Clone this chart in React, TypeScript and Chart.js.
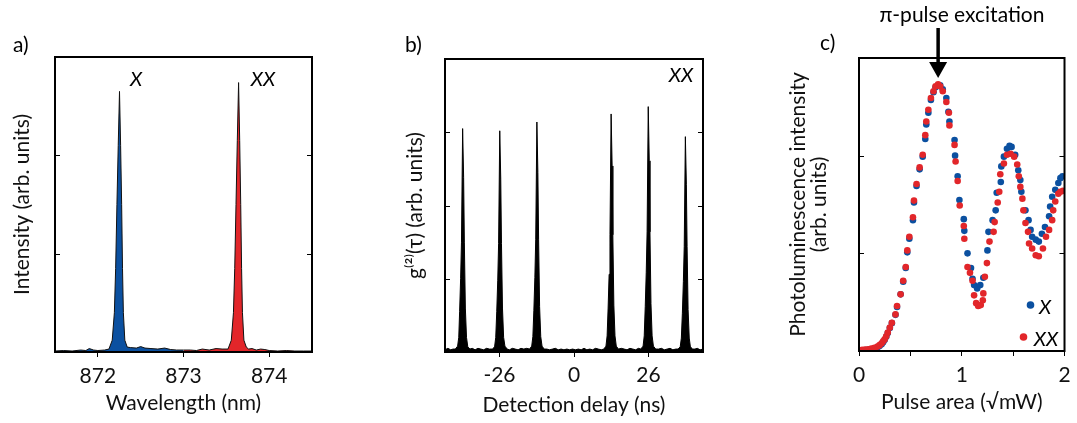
import React, { useEffect, useRef } from 'react';
import { Chart, registerables } from 'chart.js';

Chart.register(...registerables);

const FONT = 'Lato, "Open Sans", sans-serif';
const FS = 21;
const H = 423;
const BLUE = '#0b50a0';
const RED = '#e2262a';

// ---------- panel a: spectrum ----------
const wavelengthTicks = [872, 873, 874];
const intensityTicks = [1, 2];
const specXWavelength = [871.5, 871.6, 871.7, 871.8, 871.86, 871.9, 871.95, 872.0, 872.08, 872.13, 872.168, 872.193, 872.208, 872.223, 872.238, 872.253, 872.266, 872.278, 872.288, 872.298, 872.315, 872.343, 872.38, 872.45, 872.5, 872.55, 872.62, 872.7, 872.78, 872.85, 872.92, 873.0];
const specXIntensity = [0.01, 0.015, 0.01, 0.02, 0.015, 0.035, 0.02, 0.015, 0.02, 0.03, 0.12, 0.4, 0.85, 1.5, 2.1, 2.65, 2.1, 1.5, 0.85, 0.4, 0.12, 0.05, 0.045, 0.04, 0.055, 0.04, 0.035, 0.03, 0.04, 0.025, 0.02, 0.02];
const specXXWavelength = [873.0, 873.08, 873.15, 873.22, 873.3, 873.38, 873.45, 873.52, 873.558, 873.583, 873.598, 873.613, 873.628, 873.643, 873.656, 873.668, 873.678, 873.688, 873.705, 873.733, 873.76, 873.8, 873.85, 873.9, 873.95, 874.0, 874.1, 874.2, 874.3, 874.4, 874.5];
const specXXIntensity = [0.02, 0.02, 0.015, 0.03, 0.02, 0.035, 0.03, 0.03, 0.12, 0.4, 0.85, 1.5, 2.15, 2.74, 2.15, 1.5, 0.85, 0.4, 0.12, 0.05, 0.03, 0.035, 0.02, 0.03, 0.025, 0.015, 0.01, 0.015, 0.01, 0.01, 0.01];

// ---------- panel b: g2 correlation ----------
const delayTicks = [-26, 0, 26];
const g2Ticks = [1, 2, 3];
const g2Trace: [number, number][] = [
  [-45, 0.03], [-44, 0.05], [-43, 0.03], [-42.2, 0.04],
  [-41.4, 0.04], [-40.6, 0.08], [-40.2, 0.2], [-39.9, 0.55], [-39.55, 1.0], [-39.25, 1.5], [-38.85, 3.05], [-38.5, 2.38], [-38.25, 1.5], [-37.9, 0.6], [-37.5, 0.2], [-37.05, 0.07], [-36.3, 0.04],
  [-35.5, 0.05], [-34.5, 0.03], [-33.5, 0.05], [-32.5, 0.04], [-31.5, 0.03], [-30.5, 0.05], [-29.5, 0.04],
  [-28.5, 0.04], [-27.7, 0.07], [-27.3, 0.2], [-26.95, 0.55], [-26.6, 0.98], [-26.3, 1.48], [-25.9, 3.02], [-25.55, 2.36], [-25.3, 1.48], [-24.95, 0.6], [-24.55, 0.2], [-24.1, 0.08], [-23.3, 0.04],
  [-22.5, 0.03], [-21.5, 0.05], [-20.5, 0.04], [-19.5, 0.03], [-18.5, 0.05], [-17.5, 0.04], [-16.5, 0.05],
  [-15.5, 0.04], [-14.75, 0.08], [-14.35, 0.21], [-14.0, 0.57], [-13.65, 1.02], [-13.35, 1.54], [-12.95, 3.14], [-12.6, 2.45], [-12.35, 1.54], [-12.0, 0.62], [-11.6, 0.21], [-11.15, 0.08], [-10.4, 0.04],
  [-9.5, 0.04], [-8.5, 0.03], [-7.5, 0.04], [-6.5, 0.05], [-5.5, 0.03], [-4.5, 0.04], [-3.5, 0.03], [-2.5, 0.04], [-1.5, 0.03], [-0.5, 0.04],
  [0.5, 0.03], [1.5, 0.04], [2.5, 0.03], [3.5, 0.05], [4.5, 0.03], [5.5, 0.04], [6.5, 0.03], [7.5, 0.05], [8.5, 0.04], [9.5, 0.03],
  [10.4, 0.04], [11.15, 0.08], [11.55, 0.22], [11.9, 0.6], [12.25, 1.06], [12.55, 1.6], [12.95, 3.25], [13.3, 2.54], [13.55, 1.6], [13.9, 0.64], [14.3, 0.22], [14.75, 0.08], [15.5, 0.04],
  [16.5, 0.05], [17.5, 0.04], [18.5, 0.03], [19.5, 0.05], [20.5, 0.04], [21.5, 0.03], [22.5, 0.05],
  [23.3, 0.04], [24.1, 0.08], [24.5, 0.22], [24.85, 0.62], [25.2, 1.09], [25.5, 1.64], [25.9, 3.35], [26.25, 2.61], [26.5, 1.64], [26.85, 0.66], [27.25, 0.22], [27.7, 0.08], [28.5, 0.04],
  [29.5, 0.04], [30.5, 0.05], [31.5, 0.03], [32.5, 0.04], [33.5, 0.05], [34.5, 0.03], [35.5, 0.04],
  [36.3, 0.04], [37.05, 0.07], [37.45, 0.19], [37.8, 0.53], [38.15, 0.96], [38.45, 1.44], [38.85, 2.94], [39.2, 2.29], [39.45, 1.44], [39.8, 0.58], [40.2, 0.19], [40.6, 0.07], [41.4, 0.04],
  [42.2, 0.04], [43, 0.05], [44, 0.03], [45, 0.04],
];

// ---------- panel c: Rabi oscillations ----------
const pulseTicks = [0, 0.5, 1, 1.5, 2];
const plTicks = [1, 2];
const piPulseArea = 0.77;
const pulseAreaX = [0.00, 0.03, 0.06, 0.09, 0.12, 0.15, 0.18, 0.20, 0.22, 0.235, 0.25, 0.265, 0.28, 0.30, 0.32, 0.355, 0.37, 0.405, 0.43, 0.455, 0.47, 0.49, 0.525, 0.535, 0.56, 0.59, 0.62, 0.645, 0.655, 0.675, 0.70, 0.725, 0.745, 0.77, 0.79, 0.815, 0.85, 0.87, 0.88, 0.93, 0.935, 0.96, 0.977, 1.02, 1.025, 1.056, 1.09, 1.105, 1.12, 1.15, 1.18, 1.21, 1.25, 1.26, 1.30, 1.33, 1.34, 1.38, 1.385, 1.41, 1.44, 1.465, 1.485, 1.52, 1.55, 1.57, 1.58, 1.62, 1.65, 1.67, 1.685, 1.72, 1.75, 1.78, 1.81, 1.85, 1.86, 1.88, 1.91, 1.94, 1.96, 1.98];
const plX = [0.005, 0.007, 0.010, 0.013, 0.018, 0.026, 0.038, 0.050, 0.070, 0.090, 0.115, 0.145, 0.185, 0.235, 0.285, 0.37, 0.45, 0.58, 0.71, 0.85, 1.01, 1.15, 1.34, 1.52, 1.69, 1.86, 1.99, 2.17, 2.32, 2.44, 2.57, 2.65, 2.70, 2.72, 2.72, 2.68, 2.59, 2.45, 2.35, 2.16, 2.00, 1.79, 1.545, 1.35, 1.23, 1.00, 0.85, 0.74, 0.675, 0.64, 0.675, 0.75, 1.03, 1.22, 1.34, 1.44, 1.62, 1.73, 1.89, 1.99, 2.07, 2.10, 2.09, 2.01, 1.85, 1.75, 1.63, 1.44, 1.34, 1.24, 1.17, 1.14, 1.12, 1.20, 1.27, 1.38, 1.48, 1.58, 1.65, 1.72, 1.77, 1.79];
const pulseAreaXX = [0.00, 0.03, 0.06, 0.09, 0.12, 0.15, 0.18, 0.20, 0.22, 0.235, 0.25, 0.265, 0.28, 0.30, 0.32, 0.355, 0.37, 0.405, 0.43, 0.455, 0.47, 0.49, 0.525, 0.535, 0.56, 0.59, 0.62, 0.645, 0.655, 0.675, 0.70, 0.725, 0.745, 0.77, 0.79, 0.815, 0.85, 0.875, 0.88, 0.93, 0.94, 0.96, 0.98, 1.02, 1.025, 1.056, 1.08, 1.105, 1.12, 1.14, 1.16, 1.185, 1.205, 1.21, 1.225, 1.245, 1.27, 1.31, 1.32, 1.35, 1.365, 1.375, 1.41, 1.44, 1.475, 1.51, 1.54, 1.555, 1.57, 1.59, 1.60, 1.62, 1.645, 1.655, 1.685, 1.72, 1.75, 1.79, 1.82, 1.85, 1.88, 1.89, 1.91, 1.94, 1.96, 1.985];
const plXX = [0.010, 0.012, 0.015, 0.018, 0.024, 0.033, 0.045, 0.060, 0.080, 0.100, 0.120, 0.150, 0.190, 0.240, 0.290, 0.375, 0.46, 0.58, 0.72, 0.86, 1.03, 1.17, 1.37, 1.54, 1.71, 1.88, 2.01, 2.21, 2.35, 2.47, 2.59, 2.66, 2.71, 2.73, 2.71, 2.66, 2.55, 2.44, 2.31, 2.11, 1.94, 1.74, 1.49, 1.28, 1.15, 0.86, 0.80, 0.72, 0.57, 0.49, 0.46, 0.47, 0.52, 0.59, 0.76, 0.90, 1.12, 1.22, 1.32, 1.52, 1.63, 1.81, 1.92, 2.01, 2.02, 1.99, 1.91, 1.79, 1.68, 1.56, 1.44, 1.31, 1.22, 1.10, 1.05, 0.98, 0.97, 1.05, 1.17, 1.24, 1.34, 1.44, 1.53, 1.61, 1.63, 1.64];

const toPoints = (xs: number[], ys: number[]) =>
  xs.slice(0, Math.min(xs.length, ys.length)).map((x, i) => ({ x, y: ys[i] }));

Chart.defaults.font.family = FONT;
Chart.defaults.color = '#000';

type Draw = (chart: any) => void;

function framePlugin(yTicks: number[], extra?: Draw) {
  return {
    id: 'frame',
    afterDatasetsDraw(chart: any) {
      const { ctx, chartArea: a, scales } = chart;
      ctx.save();
      ctx.strokeStyle = '#000';
      ctx.lineWidth = 1;
      for (const v of yTicks) {
        const y = Math.round(scales.y.getPixelForValue(v)) + 0.5;
        ctx.beginPath();
        ctx.moveTo(a.left, y);
        ctx.lineTo(a.left + 5, y);
        ctx.moveTo(a.right, y);
        ctx.lineTo(a.right - 5, y);
        ctx.stroke();
      }
      ctx.lineWidth = 2;
      ctx.strokeRect(a.left, a.top, a.right - a.left, a.bottom - a.top);
      ctx.restore();
    },
    afterDraw(chart: any) {
      if (extra) {
        chart.ctx.save();
        extra(chart);
        chart.ctx.restore();
      }
    },
  };
}

function text(ctx: any, s: string, x: number, y: number, opts: { italic?: boolean; size?: number; align?: string } = {}) {
  ctx.font = `${opts.italic ? 'italic ' : ''}${opts.size ?? FS}px ${FONT}`;
  ctx.fillStyle = '#000';
  ctx.textAlign = opts.align ?? 'center';
  ctx.textBaseline = 'middle';
  ctx.fillText(s, x, y);
}

function xAxis(min: number, max: number, ticks: number[], title: string, labelPad: number, titlePadBottom: number, axisHeight: number, cb?: (v: number) => string) {
  return {
    type: 'linear',
    min,
    max,
    afterBuildTicks: (s: any) => {
      s.ticks = ticks.map((v) => ({ value: v }));
    },
    afterFit: (s: any) => {
      s.height = axisHeight;
    },
    grid: { display: true, drawOnChartArea: false, drawTicks: true, tickLength: 5, color: '#000', lineWidth: 1 },
    border: { display: false },
    ticks: {
      padding: labelPad,
      maxRotation: 0,
      autoSkip: false,
      color: '#111',
      font: { size: FS, family: FONT },
      callback: cb ?? ((v: any) => String(v)),
    },
    title: { display: true, text: title, color: '#111', font: { size: FS, family: FONT }, padding: { top: 0, bottom: titlePadBottom } },
  };
}

function yAxis(min: number, max: number, title: string | string[], width: number, padTop: number, lineHeight = 1.2) {
  return {
    type: 'linear',
    min,
    max,
    afterFit: (s: any) => {
      s.width = width;
    },
    grid: { display: false },
    border: { display: false },
    ticks: { display: false },
    title: { display: true, text: title, color: '#111', font: { size: FS, family: FONT, lineHeight }, padding: { top: padTop, bottom: 0 } },
  };
}

const baseOptions = (padding: any) => ({
  responsive: false,
  maintainAspectRatio: false,
  animation: false,
  devicePixelRatio: 1,
  events: [],
  layout: { padding, autoPadding: false },
  plugins: { legend: { display: false }, tooltip: { enabled: false } },
});

function configA() {
  return {
    type: 'line',
    data: {
      datasets: [
        {
          data: toPoints(specXWavelength, specXIntensity),
          borderColor: '#111',
          borderWidth: 1,
          backgroundColor: BLUE,
          fill: 'origin',
          pointRadius: 0,
          tension: 0,
        },
        {
          data: toPoints(specXXWavelength, specXXIntensity),
          borderColor: '#111',
          borderWidth: 1,
          backgroundColor: RED,
          fill: 'origin',
          pointRadius: 0,
          tension: 0,
        },
      ],
    },
    options: {
      ...baseOptions({ top: 57, right: 28, bottom: 0, left: 0 }),
      scales: {
        x: xAxis(871.5, 874.5, wavelengthTicks, 'Wavelength (nm)', 6.4, 7.4, 71),
        y: yAxis(0, 3, 'Intensity (arb. units)', 55, 9.4),
      },
    },
    plugins: [
      framePlugin(intensityTicks, (chart) => {
        const { ctx } = chart;
        text(ctx, 'a)', 13, 45, { align: 'left' });
        text(ctx, 'X', 136, 80, { italic: true, size: 20 });
        text(ctx, 'XX', 263, 80, { italic: true, size: 20 });
      }),
    ],
  };
}

const B_LEFT = 395;
function configB() {
  return {
    type: 'line',
    data: {
      datasets: [
        {
          data: g2Trace.map(([x, y]) => ({ x, y })),
          borderColor: '#000',
          borderWidth: 1,
          backgroundColor: '#000',
          fill: 'origin',
          pointRadius: 0,
          tension: 0,
        },
      ],
    },
    options: {
      ...baseOptions({ top: 59, right: 17, bottom: 0, left: 0 }),
      scales: {
        x: xAxis(-45, 45, delayTicks, 'Detection delay (ns)', 5.4, 5.4, 71),
        y: yAxis(0, 4, 'g⁽²⁾(τ) (arb. units)', 50, 7.4),
      },
    },
    plugins: [
      framePlugin(g2Ticks, (chart) => {
        const { ctx } = chart;
        text(ctx, 'b)', 405 - B_LEFT, 45, { align: 'left' });
        text(ctx, 'XX', 681 - B_LEFT, 76, { italic: true, size: 20 });
      }),
    ],
  };
}

const C_LEFT = 770;
function configC() {
  return {
    type: 'scatter',
    data: {
      datasets: [
        {
          label: 'XX',
          data: toPoints(pulseAreaXX, plXX),
          backgroundColor: RED,
          borderWidth: 0,
          pointRadius: 3.3,
        },
        {
          label: 'X',
          data: toPoints(pulseAreaX, plX),
          backgroundColor: BLUE,
          borderWidth: 0,
          pointRadius: 3.3,
        },
      ],
    },
    options: {
      ...baseOptions({ top: 58, right: 11, bottom: 0, left: 0 }),
      scales: {
        x: xAxis(0, 2, pulseTicks, 'Pulse area (√mW)', 6.4, 8.4, 72, (v: number) => (Number.isInteger(v) ? String(v) : '')),
        y: yAxis(0, 3, ['Photoluminescence intensity', '(arb. units)'], 89, 17.5, 1.0),
      },
    },
    plugins: [
      framePlugin(plTicks, (chart) => {
        const { ctx, scales } = chart;
        text(ctx, 'c)', 820 - C_LEFT, 43, { align: 'left' });
        text(ctx, 'π-pulse excitation', 962 - C_LEFT, 15);
        const ax = scales.x.getPixelForValue(piPulseArea);
        ctx.strokeStyle = '#000';
        ctx.lineWidth = 3.5;
        ctx.beginPath();
        ctx.moveTo(ax, 28);
        ctx.lineTo(ax, 66);
        ctx.stroke();
        ctx.fillStyle = '#000';
        ctx.beginPath();
        ctx.moveTo(ax - 9, 62);
        ctx.lineTo(ax + 9, 62);
        ctx.lineTo(ax, 78);
        ctx.closePath();
        ctx.fill();
        // legend
        ctx.fillStyle = BLUE;
        ctx.beginPath();
        ctx.arc(1030.5 - C_LEFT, 305, 3.8, 0, Math.PI * 2);
        ctx.fill();
        ctx.fillStyle = RED;
        ctx.beginPath();
        ctx.arc(1023.5 - C_LEFT, 337, 3.8, 0, Math.PI * 2);
        ctx.fill();
        text(ctx, 'X', 1045 - C_LEFT, 308, { italic: true, size: 20 });
        text(ctx, 'XX', 1046 - C_LEFT, 340, { italic: true, size: 20 });
      }),
    ],
  };
}

function Panel({ left, width, make }: { left: number; width: number; make: () => any }) {
  const ref = useRef<HTMLCanvasElement>(null);
  useEffect(() => {
    if (!ref.current) return;
    const chart = new Chart(ref.current, make());
    return () => chart.destroy();
  }, []);
  return (
    <canvas
      ref={ref}
      width={width}
      height={H}
      style={{ position: 'absolute', left, top: 0, width, height: H, display: 'block' }}
    />
  );
}

export default function App() {
  return (
    <div style={{ position: 'absolute', left: 0, top: 0, width: 1077, height: H, background: '#fff', overflow: 'hidden' }}>
      <Panel left={0} width={340} make={configA} />
      <Panel left={B_LEFT} width={325} make={configB} />
      <Panel left={C_LEFT} width={307} make={configC} />
    </div>
  );
}
